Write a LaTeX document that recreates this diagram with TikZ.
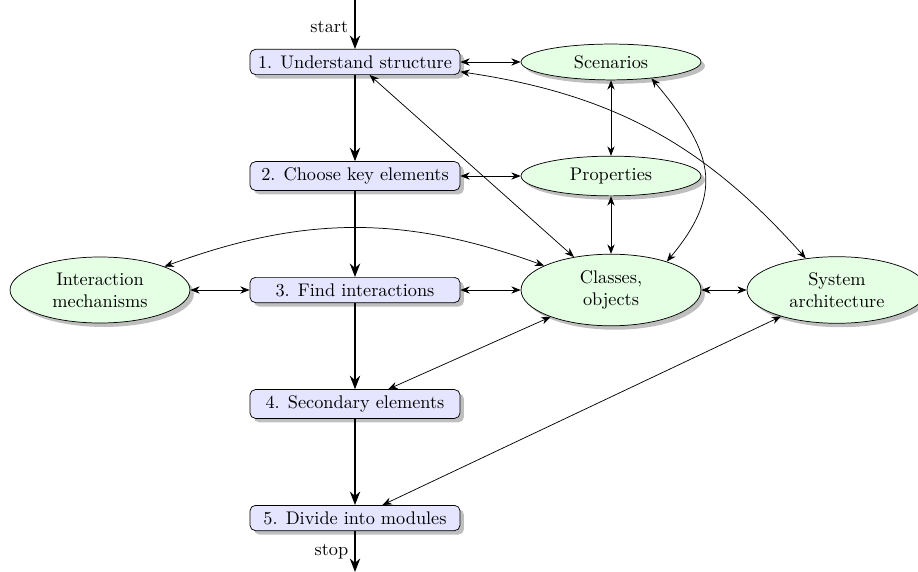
\documentclass[tikz,border=0pt]{standalone}
\usepackage{tikz}
\usetikzlibrary{shapes.geometric,arrows.meta,positioning,shadows}

\begin{document}
\begin{tikzpicture}[
    stepbox/.style={draw=black, rounded corners=3pt, minimum width=4.04cm, fill=blue!10, drop shadow, align=center},
    idea/.style={ellipse, draw=black, minimum width=3.46cm, fill=green!10, drop shadow, align=center, inner sep=3.3pt},
    flow/.style={-{Stealth[length=2.6mm, width=2mm]}, thick},
    link/.style={{Stealth[length=1.8mm, width=1.4mm]}-{Stealth[length=1.8mm, width=1.4mm]}}
]
\useasboundingbox (0,0) rectangle (17.654,-11);
% main steps
\node[stepbox] (s1) at (6.827,-1.192) {1. Understand structure};
\node[stepbox] (s2) at (6.827,-3.385) {2. Choose key elements};
\node[stepbox] (s3) at (6.827,-5.577) {3. Find interactions};
\node[stepbox] (s4) at (6.827,-7.769) {4. Secondary elements};
\node[stepbox] (s5) at (6.827,-9.962) {5. Divide into modules};
\coordinate (top) at (6.827,0);
\coordinate (bottom) at (6.827,-11);
% concepts
\node[idea] (scen) at (11.75,-1.192) {Scenarios};
\node[idea] (prop) at (11.75,-3.385) {Properties};
\node[idea] (cls) at (11.75,-5.577) {Classes,\\objects};
\node[idea] (inter) at (1.923,-5.577) {Interaction\\mechanisms};
\node[idea] (arch) at (16.096,-5.577) {System\\architecture};
% flow
\draw[flow] (top) -- node[left, pos=0.55] {start} (s1);
\draw[flow] (s1) -- (s2);
\draw[flow] (s2) -- (s3);
\draw[flow] (s3) -- (s4);
\draw[flow] (s4) -- (s5);
\draw[flow] (s5) -- node[left] {stop} (bottom);
% links
\draw[link] (s1) -- (scen);
\draw[link] (s2) -- (prop);
\draw[link] (s3) -- (cls);
\draw[link] (inter) -- (s3);
\draw[link] (cls) -- (arch);
\draw[link] (scen) -- (prop);
\draw[link] (prop) -- (cls);
\draw[link] (s1) -- (cls);
\draw[link] (cls) -- (s4);
\draw[link] (arch) -- (s5);
\draw[link] (inter) to[bend left=20] (cls);
\draw[link] (s1) to[bend left=20] (arch);
\draw[link] (scen.-22) to[out=-50, in=50, looseness=1.3] (cls.27);
\end{tikzpicture}
\end{document}
